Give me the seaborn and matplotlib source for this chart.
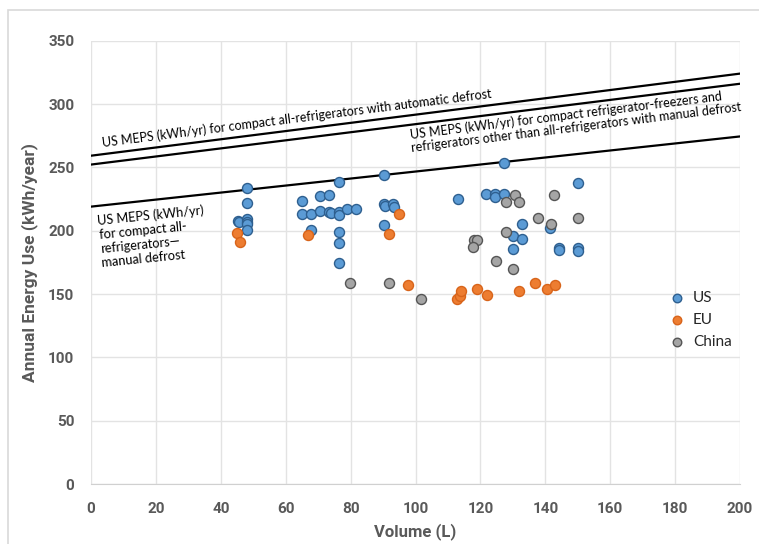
import numpy as np
import pandas as pd
import seaborn as sns
import matplotlib.pyplot as plt
from matplotlib.patches import Rectangle

# measured models
us_volume = [45.2, 45.6, 48.0, 48.0, 48.0, 48.0, 48.0, 48.0,
             65.0, 65.0, 67.8, 67.9, 70.6, 73.2, 70.6, 73.2, 74.0, 76.3, 76.3, 76.3, 76.3, 76.3, 76.3, 79.0, 81.7,
             90.4, 90.4, 90.6, 93.2, 93.5, 90.4,
             113.0, 121.6, 124.5, 124.5, 127.3, 127.3, 132.9, 130.0, 132.9, 130.0,
             141.4, 144.2, 144.2, 150.0, 150.0, 150.0]
us_energy = [208, 207, 209, 207, 205, 200.5, 222, 234,
             223.5, 213.5, 213, 200.6, 227.5, 228.5, 215.5, 215, 214, 238.5, 214.5, 212.5, 199.3, 190.5, 174.5, 217.5, 217.5,
             243.8, 221, 219.5, 221, 219, 204.3,
             225, 228.8, 228.8, 226.7, 228.8, 253.6, 205.5, 196, 193.7, 185.3,
             202.5, 186.5, 184.8, 237.5, 186.5, 184]

eu_volume = [44.9, 45.9, 66.9, 91.8, 94.8, 97.7, 112.9, 113.7, 113.9, 118.9, 121.9, 131.8, 136.8, 140.6, 142.9]
eu_energy = [198.5, 191, 196.4, 197.5, 213.5, 157, 146, 148.7, 152.5, 154.3, 149.3, 152.7, 158.8, 154, 157.2]

cn_volume = [79.8, 91.8, 101.8, 117.9, 118.8, 117.8, 124.9, 127.8, 127.8, 129.9, 130.8, 131.8, 137.8, 141.8, 142.8, 150.0]
cn_energy = [158.5, 158.6, 145.9, 192.5, 192.5, 187.5, 176.5, 222.7, 199, 170, 228, 222.7, 210, 205.3, 228, 210]

# US MEPS lines, value at 0 L and at 200 L
meps_start = [259.3, 252.3, 219.1]
meps_end = [324.1, 316.1, 274.5]
meps_x = [0, 200]

df = pd.concat([
    pd.DataFrame({"Volume": us_volume, "Energy": us_energy, "Region": "US"}),
    pd.DataFrame({"Volume": eu_volume, "Energy": eu_energy, "Region": "EU"}),
    pd.DataFrame({"Volume": cn_volume, "Energy": cn_energy, "Region": "China"}),
])

sns.set_style("whitegrid")
plt.rcParams["font.family"] = ["Lato", "DejaVu Sans"]
BOLD_FONT = ["Roboto", "DejaVu Sans"]

fig = plt.figure(figsize=(7.59, 5.44), dpi=100)
ax = fig.add_axes([0.12, 0.11, 0.855, 0.815])
fig.patches.append(Rectangle((8 / 759, -0.05), 1.2, 1.05 - 10 / 544, transform=fig.transFigure,
                             fill=False, edgecolor="#d9d9d9", linewidth=1.2))

for a, b in zip(meps_start, meps_end):
    sns.lineplot(x=meps_x, y=[a, b], color="black", linewidth=1.6, ax=ax, legend=False)

styles = {"US": ("#5B9BD5", "#2E5F8F"), "EU": ("#ED7D31", "#D8641A"), "China": ("#A5A5A5", "#555555")}
for region, (fc, ec) in styles.items():
    sub = df[df.Region == region]
    sns.scatterplot(data=sub, x="Volume", y="Energy", color=fc, edgecolor=ec, linewidth=1.0,
                    s=52, label=region, ax=ax, zorder=3)

ax.set_xlim(0, 200)
ax.set_ylim(0, 350)
ax.set_xticks(range(0, 201, 20))
ax.set_yticks(range(0, 351, 50))
ax.grid(color="#e3e3e3", linewidth=1)
for s in ["top", "right", "left"]:
    ax.spines[s].set_visible(False)
ax.spines["bottom"].set_color("#d0d0d0")
ax.tick_params(axis="both", length=0, labelcolor="#595959")
ax.tick_params(axis="x", pad=13)
ax.tick_params(axis="y", pad=12)
for lab in ax.get_xticklabels() + ax.get_yticklabels():
    lab.set_family(BOLD_FONT)
    lab.set_fontweight("bold")
    lab.set_fontsize(11)

ax.set_xlabel("Volume (L)", fontsize=12, fontweight="bold", color="#595959", family=BOLD_FONT, labelpad=5)
ax.set_ylabel("Annual Energy Use (kWh/year)", fontsize=12.5, fontweight="bold", color="#595959",
              family=BOLD_FONT, labelpad=7)

# annotation angles follow the lines on screen
fig.canvas.draw()
def angle(a, b):
    p0 = ax.transData.transform((0, a))
    p1 = ax.transData.transform((200, b))
    return np.degrees(np.arctan2(p1[1] - p0[1], p1[0] - p0[0]))

ax.text(3.7, 266, "US MEPS (kWh/yr) for compact all-refrigerators with automatic defrost",
        rotation=angle(meps_start[0], meps_end[0]), rotation_mode="anchor", fontsize=9.0, color="black")
ax.text(98.9, 263, "US MEPS (kWh/yr) for compact refrigerator-freezers and\nrefrigerators other than all-refrigerators with manual defrost",
        rotation=angle(meps_start[1], meps_end[1]), rotation_mode="anchor", fontsize=9.0, color="black",
        linespacing=1.1)
ax.text(3.4, 173, "US MEPS (kWh/yr)\nfor compact all-\nrefrigerators\u2014\nmanual defrost",
        rotation=angle(meps_start[2], meps_end[2]) - 0.5, rotation_mode="anchor", fontsize=9.2, color="black",
        linespacing=1.2)

ax.legend(loc="center left", bbox_to_anchor=(0.87, 0.37), frameon=False, fontsize=11,
          handletextpad=0.05, labelspacing=0.5, markerscale=0.85, borderaxespad=0)

fig.savefig("out.png", dpi=100)
